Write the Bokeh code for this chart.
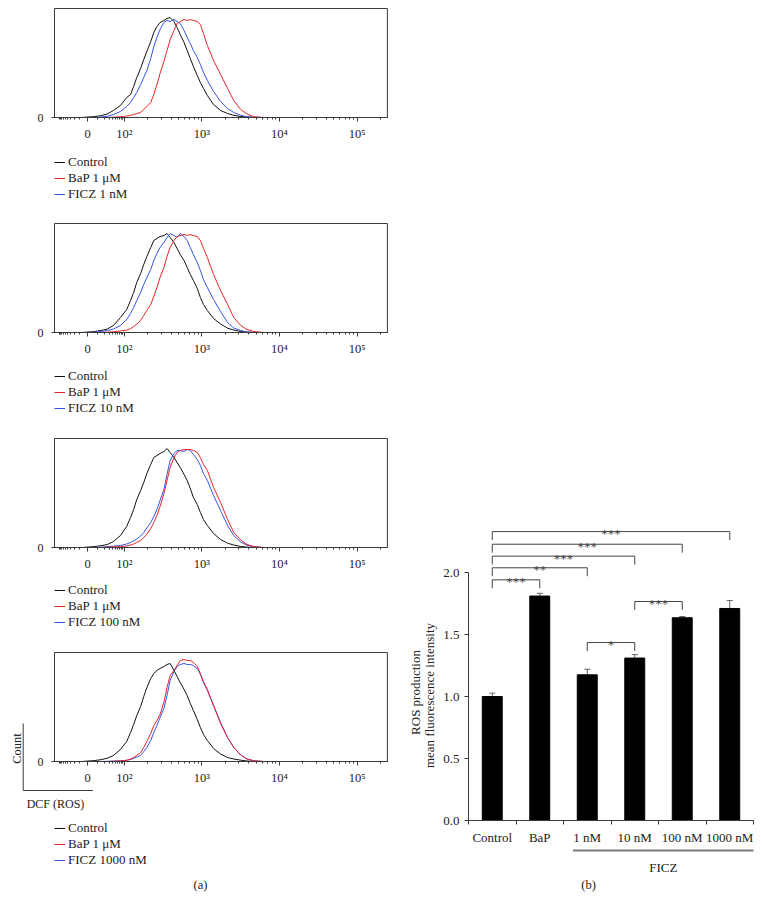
import numpy as np
from bokeh.plotting import figure
from bokeh.layouts import row, column
from bokeh.models import (Range1d, FixedTicker, Legend, LegendItem, Label, Arrow,
                          Whisker, TeeHead, ColumnDataSource, PrintfTickFormatter)
from bokeh.core.properties import value
from bokeh.embed import file_html
from bokeh.resources import INLINE

FONT = "Liberation Serif"
TXT = "#222222"
AX = "#3a3a3a"

# ---------------- data: histograms (x = log10 DCF intensity, display units) ----------------
T = [1.10, 1.45, 1.60, 1.70, 1.78, 1.86, 1.95, 2.03, 2.08, 2.12, 2.16, 2.21, 2.25, 2.29,
     2.34, 2.38, 2.42, 2.46, 2.51, 2.55, 2.59, 2.64, 2.68, 2.72, 2.77, 2.81, 2.85, 2.89,
     2.94, 2.98, 3.02, 3.07, 3.15, 3.24, 3.33, 3.41, 3.50, 3.58, 3.67, 3.80, 5.39]
ZERO_T = 1.526
X_LO, X_HI = 1.10, 5.39
Y_HI = 109

p1_control = [0, 0, 0.8, 1.8, 3.5, 7, 12, 20, 23, 31, 40, 49, 58, 66, 76, 85, 91, 95, 97, 99,
              100, 96, 90, 83, 75, 67, 59, 51, 42, 35, 29, 22, 13, 7, 4, 2.2, 1, 0.4, 0, 0, 0]
p1_bap = [0, 0, 0, 0, 0, 0.3, 0.8, 1.5, 2.2, 3, 4, 5, 8, 11, 15, 23, 33, 44, 56, 67,
          78, 87, 94, 96, 98, 97, 98, 97, 96, 93, 84, 72, 57, 43, 29, 17, 8, 3.5, 0.8, 0, 0]
p1_ficz = [0, 0, 0, 0.5, 1.2, 3, 6, 11, 15, 20, 25, 33, 40, 47, 59, 71, 80, 88, 95, 97,
           96, 98, 96, 94, 87, 80, 74, 67, 60, 53, 45, 37, 26, 16, 9, 5, 2.2, 0.8, 0.2, 0, 0]

p2_control = [0, 0, 0.8, 2, 3.5, 7, 15, 23, 32, 40, 50, 59, 68, 76, 85, 92, 94, 96, 97, 99,
              95, 90, 84, 78, 72, 65, 58, 52, 44, 35, 28, 22, 14, 8.5, 4.3, 2.5, 1, 0.4, 0, 0, 0]
p2_bap = [0, 0, 0, 0, 0.3, 0.8, 1.5, 2.3, 4, 6, 8.5, 12, 17, 22, 28, 36, 45, 55, 65, 76,
          85, 92, 96, 97, 98, 97, 98, 97, 96, 92, 84, 75, 58, 42, 28, 15, 7, 3, 1, 0, 0]
p2_ficz = [0, 0, 0.3, 1, 2, 3.5, 7, 13, 19, 25, 32, 40, 48, 55, 63, 72, 79, 85, 90, 95,
           99, 97, 95, 99, 96, 92, 85, 78, 70, 62, 53, 45, 33, 21, 10, 4.5, 2, 0.5, 0.1, 0, 0]

p3_control = [0, 0, 0.8, 1.8, 3, 6, 12, 21, 30, 38, 48, 57, 65, 74, 83, 90, 92, 94, 96, 99,
              95, 90, 85, 80, 73, 67, 59, 50, 43, 35, 28, 22, 14, 8, 4.3, 2.5, 1, 0.4, 0, 0, 0]
p3_bap = [0, 0, 0, 0, 0.3, 0.6, 0.9, 1.5, 2.5, 3.5, 5, 7, 10, 13.5, 19, 25, 32, 41, 54, 67,
          80, 90, 95, 97, 98, 98, 98, 97, 95, 90, 83, 77, 60, 45, 28, 15, 7.5, 3, 1, 0, 0]
p3_ficz = [0, 0, 0, 0.3, 0.8, 1.3, 2, 3.5, 5, 6.5, 8.5, 11.5, 15, 19.5, 25, 31, 38, 47, 58, 73,
           87, 94, 97, 97, 96, 98, 97, 93, 88, 82, 74, 67, 52, 37, 22, 12, 5.5, 2.3, 0.6, 0, 0]

p4_control = [0, 0, 0.8, 1.8, 3.3, 6, 12, 20, 29, 37, 46, 55, 65, 74, 83, 88, 91, 93, 95, 97,
              98, 91, 85, 79, 72, 66, 58, 51, 42, 34, 27, 21, 13, 7.5, 4, 2.5, 1.3, 0.5, 0, 0, 0]
p4_bap = [0, 0, 0, 0, 0, 0.3, 0.6, 1.2, 2.5, 4, 6, 9, 14, 20, 28, 36, 41, 47, 59, 74,
          86, 91, 96, 101, 102, 101, 101, 99, 95, 88, 80, 72, 56, 38, 24, 14, 6.5, 2.5, 0.7, 0, 0]
p4_ficz = [0, 0, 0, 0, 0.2, 0.4, 0.7, 1.2, 2, 3, 4.5, 6, 10, 14, 21, 29, 36, 44, 53, 66,
           81, 90, 95, 97, 98, 97, 97, 96, 93, 87, 79, 71, 56, 39, 24, 14, 6.5, 2.5, 0.7, 0, 0]

LEGEND_BASE = ["Control", "BaP 1 \u03bcM"]
FICZ_DOSES = ["FICZ 1 nM", "FICZ 10 nM", "FICZ 100 nM", "FICZ 1000 nM"]
X_TICK_LABELS = ["0", "10\u00b2", "10\u00b3", "10\u2074", "10\u2075"]

# ---------------- data: bar chart ----------------
CATS = ["Control", "BaP", "1 nM", "10 nM", "100 nM", "1000 nM"]
MEANS = [1.00, 1.81, 1.175, 1.31, 1.635, 1.71]
ERRS = [0.027, 0.022, 0.045, 0.028, 0.010, 0.064]
BR_FROM = ["Control", "Control", "Control", "Control", "Control", "1 nM", "10 nM"]
BR_TO = ["BaP", "1 nM", "10 nM", "100 nM", "1000 nM", "10 nM", "100 nM"]
BR_Y = [1.941, 2.038, 2.132, 2.228, 2.330, 1.435, 1.766]
BR_STARS = ["***", "**", "***", "***", "***", "*", "***"]

BLACK, RED, BLUE = "#111111", "#e8232a", "#3454e4"

# ---------------- geometry (pixels) ----------------
LEFT_W = 398          # width of left column
PX_T = 77.6           # pixels per decade
BOX_L = 54            # left edge of histogram boxes
RIGHT_W = 364
TOTAL_H = 902


def minor_ticks():
    m = []
    for d in range(2, 6):
        for k in range(2, 10):
            t = d + np.log10(k)
            if t < X_HI:
                m.append(float(t))
    for v in range(10, 100, 10):
        frac = np.arcsinh(v / 12.0) / np.arcsinh(100 / 12.0)
        m.append(float(ZERO_T + (2 - ZERO_T) * frac))
        neg = ZERO_T - (2 - ZERO_T) * frac * 0.8
        if neg > X_LO:
            m.append(float(neg))
    return m


def text_label(p, x, y, text, size="12.5px", angle=0.0, x_units="screen", y_units="screen"):
    p.add_layout(Label(x=x, y=y, x_units=x_units, y_units=y_units, text=text, angle=angle,
                       text_align="center", text_baseline="middle",
                       text_font=FONT, text_font_size=size, text_color=TXT))


def hist_fig(ctrl, bap, ficz, ficz_label, fig_h, box_bottom, legend_y):
    x0 = X_LO - BOX_L / PX_T
    x1 = X_LO + (LEFT_W - BOX_L) / PX_T
    p = figure(width=LEFT_W, height=fig_h, output_backend="svg", toolbar_location=None,
               x_range=Range1d(x0, x1), y_range=Range1d(box_bottom - fig_h, box_bottom),
               min_border=0)
    p.grid.visible = False
    p.outline_line_color = None
    p.quad(left=[X_LO], right=[X_HI], bottom=[0], top=[Y_HI], fill_color=None,
           line_color=AX, line_width=1)
    r_c = p.line(T, ctrl, line_color=BLACK, line_width=1)
    r_f = p.line(T, ficz, line_color=BLUE, line_width=1)
    r_b = p.line(T, bap, line_color=RED, line_width=1)

    xa = p.xaxis[0]
    xa.fixed_location = 0
    xa.bounds = (X_LO, X_HI)
    xa.ticker = FixedTicker(ticks=[ZERO_T, 2, 3, 4, 5], minor_ticks=minor_ticks())
    xa.major_label_overrides = dict(zip([ZERO_T, 2, 3, 4, 5], X_TICK_LABELS))
    xa.major_tick_out = 4
    xa.major_tick_in = 0
    xa.minor_tick_out = 2
    xa.minor_tick_in = 0
    xa.axis_line_color = AX
    xa.major_tick_line_color = AX
    xa.minor_tick_line_color = AX
    xa.major_label_text_font = FONT
    xa.major_label_text_font_size = "12.5px"
    xa.major_label_text_color = TXT
    xa.major_label_standoff = 5

    ya = p.yaxis[0]
    ya.fixed_location = X_LO
    ya.ticker = FixedTicker(ticks=[0])
    ya.axis_line_color = None
    ya.major_tick_out = 3
    ya.major_tick_in = 0
    ya.major_tick_line_color = AX
    ya.major_label_text_font = FONT
    ya.major_label_text_font_size = "12px"
    ya.major_label_text_color = TXT
    ya.major_label_standoff = 8

    labels = LEGEND_BASE + [ficz_label]
    legend = Legend(items=[LegendItem(label=labels[0], renderers=[r_c]),
                           LegendItem(label=labels[1], renderers=[r_b]),
                           LegendItem(label=labels[2], renderers=[r_f])],
                    location=(BOX_L, legend_y), orientation="vertical",
                    glyph_width=11, glyph_height=16, label_height=16, label_standoff=3,
                    spacing=0, padding=0, margin=0, border_line_color=None,
                    background_fill_alpha=0, label_text_font=FONT,
                    label_text_font_size="13px", label_text_color=TXT)
    p.add_layout(legend)
    return p


# fig heights / box bottoms are relative to each figure's top edge; legend y from bottom
p1 = hist_fig(p1_control, p1_bap, p1_ficz, FICZ_DOSES[0], 222, 117, 20)
p2 = hist_fig(p2_control, p2_bap, p2_ficz, FICZ_DOSES[1], 215, 110, 21)
p3 = hist_fig(p3_control, p3_bap, p3_ficz, FICZ_DOSES[2], 214, 110, 21)
P4_H = 251
p4 = hist_fig(p4_control, p4_bap, p4_ficz, FICZ_DOSES[3], P4_H, 110, 34)

# Count / DCF (ROS) indicator (screen units, from bottom-left of p4)
p4.add_layout(Arrow(end=None, x_start=22.7, y_start=179, x_end=22.7, y_end=112,
                    start_units="screen", end_units="screen", line_color=AX, line_width=1))
p4.add_layout(Arrow(end=None, x_start=22.7, y_start=112, x_end=92.3, y_end=112,
                    start_units="screen", end_units="screen", line_color=AX, line_width=1))
text_label(p4, 16, 154, "Count", size="12.5px", angle=np.pi / 2)
text_label(p4, 55, 98.5, "DCF (ROS)", size="12px")
text_label(p4, 200, 18, "(a)", size="12.5px")

# ---------------- bar chart ----------------
xs = [i + 0.5 for i in range(len(CATS))]
pos = dict(zip(CATS, xs))
CAT_PX = 47.5
AXIS_X = 468 - LEFT_W
PX_Y = 124.0
AXIS_Y = 820

pb = figure(width=RIGHT_W, height=TOTAL_H, output_backend="svg", toolbar_location=None,
            x_range=Range1d(-AXIS_X / CAT_PX, (RIGHT_W - AXIS_X) / CAT_PX),
            y_range=Range1d(-(TOTAL_H - AXIS_Y) / PX_Y, AXIS_Y / PX_Y),
            min_border=0)
pb.grid.visible = False
pb.outline_line_color = None

pb.vbar(x=xs, top=MEANS, width=0.42, fill_color="black", line_color="black")

src = ColumnDataSource(dict(x=xs, upper=[m + e for m, e in zip(MEANS, ERRS)],
                            lower=[m - e for m, e in zip(MEANS, ERRS)]))
EB = "#666666"
pb.add_layout(Whisker(source=src, base="x", upper="upper", lower="lower",
                      line_color=EB, line_width=1,
                      upper_head=TeeHead(size=6, line_color=EB, line_width=1),
                      lower_head=TeeHead(size=6, line_color=EB, line_width=1)))

LEG = 0.068
bx, by, mx = [], [], []
for a, b, h in zip(BR_FROM, BR_TO, BR_Y):
    bx.append([pos[a], pos[a], pos[b], pos[b]])
    by.append([h - LEG, h, h, h - LEG])
    mx.append((pos[a] + pos[b]) / 2)
pb.multi_line(bx, by, line_color="#444444", line_width=1)
pb.text(x=mx, y=BR_Y, text=BR_STARS, text_align="center", text_baseline="alphabetic",
        y_offset=2, text_font=value(FONT), text_font_size="13px", text_color="#444444")

xa = pb.xaxis[0]
xa.fixed_location = 0
xa.bounds = (0, len(CATS))
xa.ticker = FixedTicker(ticks=xs, minor_ticks=list(range(len(CATS) + 1)))
xa.major_label_overrides = dict(zip(xs, CATS))
xa.major_tick_out = 0
xa.major_tick_in = 0
xa.minor_tick_out = 4
xa.minor_tick_in = 0
xa.axis_line_color = AX
xa.minor_tick_line_color = AX
xa.major_label_text_font = FONT
xa.major_label_text_font_size = "13px"
xa.major_label_text_color = TXT
xa.major_label_standoff = 5

ya = pb.yaxis[0]
ya.fixed_location = 0
ya.ticker = FixedTicker(ticks=[0, 0.5, 1.0, 1.5, 2.0])
ya.formatter = PrintfTickFormatter(format="%.1f")
ya.bounds = (0, 2.0)
ya.major_tick_out = 4
ya.major_tick_in = 0
ya.minor_tick_out = 0
ya.minor_tick_in = 0
ya.axis_line_color = AX
ya.major_tick_line_color = AX
ya.major_label_text_font = FONT
ya.major_label_text_font_size = "13px"
ya.major_label_text_color = TXT
ya.major_label_standoff = 5

text_label(pb, 17, TOTAL_H - 692, "ROS production", size="13px", angle=np.pi / 2)
text_label(pb, 31, TOTAL_H - 695, "mean fluorescence intensity", size="13px", angle=np.pi / 2)

g0 = CATS.index("1 nM") + 0.2
g1 = float(len(CATS))
FICZ_Y = -(850 - AXIS_Y) / PX_Y
pb.add_layout(Arrow(end=None, x_start=g0, y_start=FICZ_Y, x_end=g1, y_end=FICZ_Y,
                    start_units="data", end_units="data", line_color="#777777", line_width=2))
text_label(pb, (g0 + g1) / 2, TOTAL_H - 867, "FICZ", size="13px", x_units="data")
text_label(pb, 588 - LEFT_W, TOTAL_H - 884, "(b)", size="12.5px")

layout = row(column(p1, p2, p3, p4), pb)
open("out.html", "w").write(file_html(layout, INLINE))
